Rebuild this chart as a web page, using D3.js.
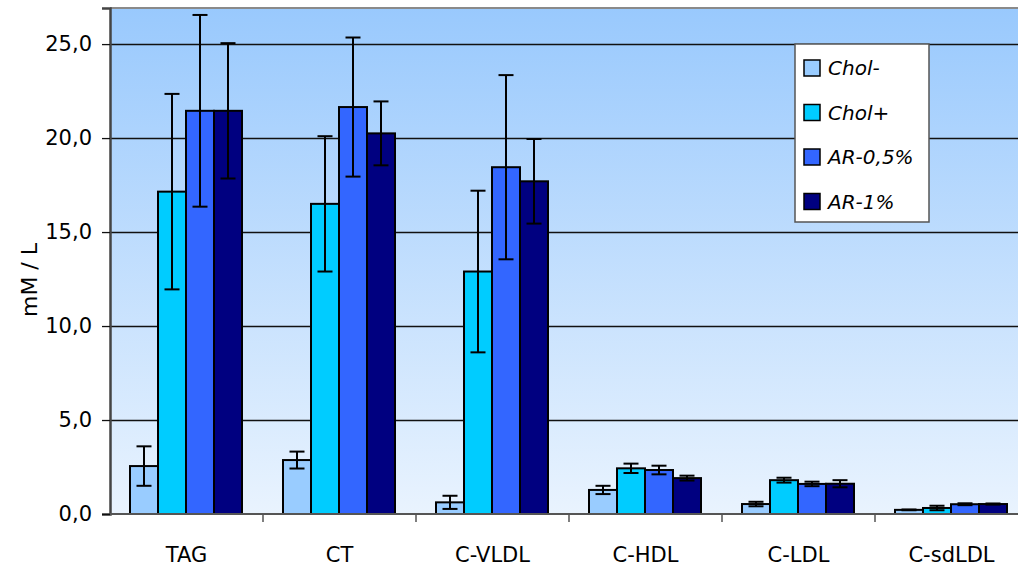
<!DOCTYPE html>
<html>
<head>
<meta charset="utf-8">
<script src="https://cdn.jsdelivr.net/npm/d3@7"></script>
<style>
  body { margin: 0; background: #fff; }
  svg { display: block; }
</style>
</head>
<body>
<script>
const categories = ["TAG", "CT", "C-VLDL", "C-HDL", "C-LDL", "C-sdLDL"];
const seriesNames = ["Chol-", "Chol+", "AR-0,5%", "AR-1%"];
const seriesColors = ["#99ccff", "#00ccff", "#3366ff", "#000080"];
// mean values per series, in category order
const cholMinus = [2.55, 2.87, 0.62, 1.28, 0.53, 0.22];
const cholPlus  = [17.15, 16.5, 12.9, 2.43, 1.8, 0.32];
const ar05      = [21.45, 21.65, 18.45, 2.34, 1.6, 0.52];
const ar1       = [21.45, 20.25, 17.7, 1.91, 1.61, 0.53];
// error (± sd)
const cholMinusErr = [1.05, 0.45, 0.35, 0.22, 0.12, 0.02];
const cholPlusErr  = [5.2, 3.6, 4.3, 0.25, 0.13, 0.12];
const ar05Err      = [5.1, 3.7, 4.9, 0.23, 0.12, 0.05];
const ar1Err       = [3.6, 1.7, 2.25, 0.13, 0.19, 0.03];
const yTicks = [0, 5, 10, 15, 20, 25];

const values = [cholMinus, cholPlus, ar05, ar1];
const errors = [cholMinusErr, cholPlusErr, ar05Err, ar1Err];

const W = 1018, H = 571;
const margin = { top: 8, left: 110 };
const plotW = 918, plotH = 506;

const svg = d3.select("body").append("svg")
  .attr("width", W).attr("height", H);

const defs = svg.append("defs");
const grad = defs.append("linearGradient")
  .attr("id", "bg").attr("x1", 0).attr("y1", 0).attr("x2", 0).attr("y2", 1);
grad.append("stop").attr("offset", "0%").attr("stop-color", "#99c9fd");
grad.append("stop").attr("offset", "100%").attr("stop-color", "#e9f3fe");

const g = svg.append("g").attr("transform", `translate(${margin.left},${margin.top})`);

const x0 = d3.scaleBand().domain(categories).range([0, plotW]);
const x1 = d3.scaleBand().domain(seriesNames).range([20, x0.bandwidth() - 21]);
const y = d3.scaleLinear().domain([0, 26.92]).range([plotH, 0]);

g.append("rect").attr("width", plotW).attr("height", plotH).attr("fill", "url(#bg)");
g.append("line").attr("x1", 0).attr("x2", plotW).attr("y1", 0).attr("y2", 0)
  .attr("stroke", "#8a8a8a").attr("stroke-width", 2);

// gridlines
g.append("g").selectAll("line").data(yTicks.filter(d => d > 0)).join("line")
  .attr("x1", 0).attr("x2", plotW)
  .attr("y1", d => Math.round(y(d)) + 0.5).attr("y2", d => Math.round(y(d)) + 0.5)
  .attr("stroke", "#111").attr("stroke-width", 1.3);

// y axis
const yAxis = g.append("g")
  .call(d3.axisLeft(y).tickValues(yTicks).tickSize(8).tickPadding(10)
    .tickFormat(d => d3.format(".1f")(d).replace(".", ",")));
yAxis.select(".domain").attr("stroke", "#444").attr("stroke-width", 2.5);
yAxis.selectAll(".tick line").attr("stroke", "#111").attr("stroke-width", 1.3);
yAxis.selectAll("text").attr("font-family", "DejaVu Sans, Verdana, sans-serif")
  .attr("font-size", 21).attr("fill", "#000");

// bars
const rows = [];
seriesNames.forEach((s, i) => categories.forEach((c, j) =>
  rows.push({ s, c, v: values[i][j], e: errors[i][j], color: seriesColors[i] })));

g.append("g").selectAll("rect").data(rows).join("rect")
  .attr("x", d => x0(d.c) + x1(d.s))
  .attr("y", d => y(d.v))
  .attr("width", x1.bandwidth())
  .attr("height", d => y(0) - y(d.v))
  .attr("fill", d => d.color)
  .attr("stroke", "#000").attr("stroke-width", 2);

// error bars
const eb = g.append("g").selectAll("g").data(rows).join("g")
  .attr("transform", d => `translate(${x0(d.c) + x1(d.s) + x1.bandwidth() / 2},0)`)
  .attr("stroke", "#000").attr("stroke-width", 2);
eb.append("line").attr("y1", d => y(d.v + d.e)).attr("y2", d => y(d.v - d.e));
eb.append("line").attr("x1", -7.5).attr("x2", 7.5)
  .attr("y1", d => y(d.v + d.e)).attr("y2", d => y(d.v + d.e));
eb.append("line").attr("x1", -7.5).attr("x2", 7.5)
  .attr("y1", d => y(d.v - d.e)).attr("y2", d => y(d.v - d.e));

// x axis
const xAxis = g.append("g").attr("transform", `translate(0,${plotH})`);
xAxis.append("line").attr("x1", 0).attr("x2", plotW)
  .attr("stroke", "#555").attr("stroke-width", 2);
xAxis.selectAll(".sep").data(categories.slice(1)).join("line")
  .attr("x1", d => x0(d)).attr("x2", d => x0(d))
  .attr("y1", 0).attr("y2", 8).attr("stroke", "#555").attr("stroke-width", 1.5);
xAxis.selectAll("text").data(categories).join("text")
  .attr("x", d => x0(d) + x0.bandwidth() / 2).attr("y", 48)
  .attr("text-anchor", "middle")
  .attr("font-family", "DejaVu Sans, sans-serif").attr("font-size", 21)
  .text(d => d);

// y label
svg.append("text")
  .attr("transform", "translate(37,280) rotate(-90)")
  .attr("text-anchor", "middle")
  .attr("font-family", "DejaVu Sans, sans-serif").attr("font-size", 22)
  .text("mM / L");

// legend
const lg = svg.append("g").attr("transform", "translate(795,44)");
lg.append("rect").attr("width", 134).attr("height", 178)
  .attr("fill", "#fff").attr("stroke", "#555").attr("stroke-width", 1.5);
const li = lg.selectAll(".item").data(seriesNames).join("g")
  .attr("transform", (d, i) => `translate(9,${24 + i * 44.5})`);
li.append("rect").attr("x", 0).attr("y", -8).attr("width", 16).attr("height", 16)
  .attr("fill", (d, i) => seriesColors[i]).attr("stroke", "#000").attr("stroke-width", 1.5);
li.append("text").attr("x", 24).attr("y", 7)
  .attr("font-family", "DejaVu Sans, sans-serif").attr("font-style", "italic")
  .attr("font-size", 20).text(d => d);
</script>
</body>
</html>
